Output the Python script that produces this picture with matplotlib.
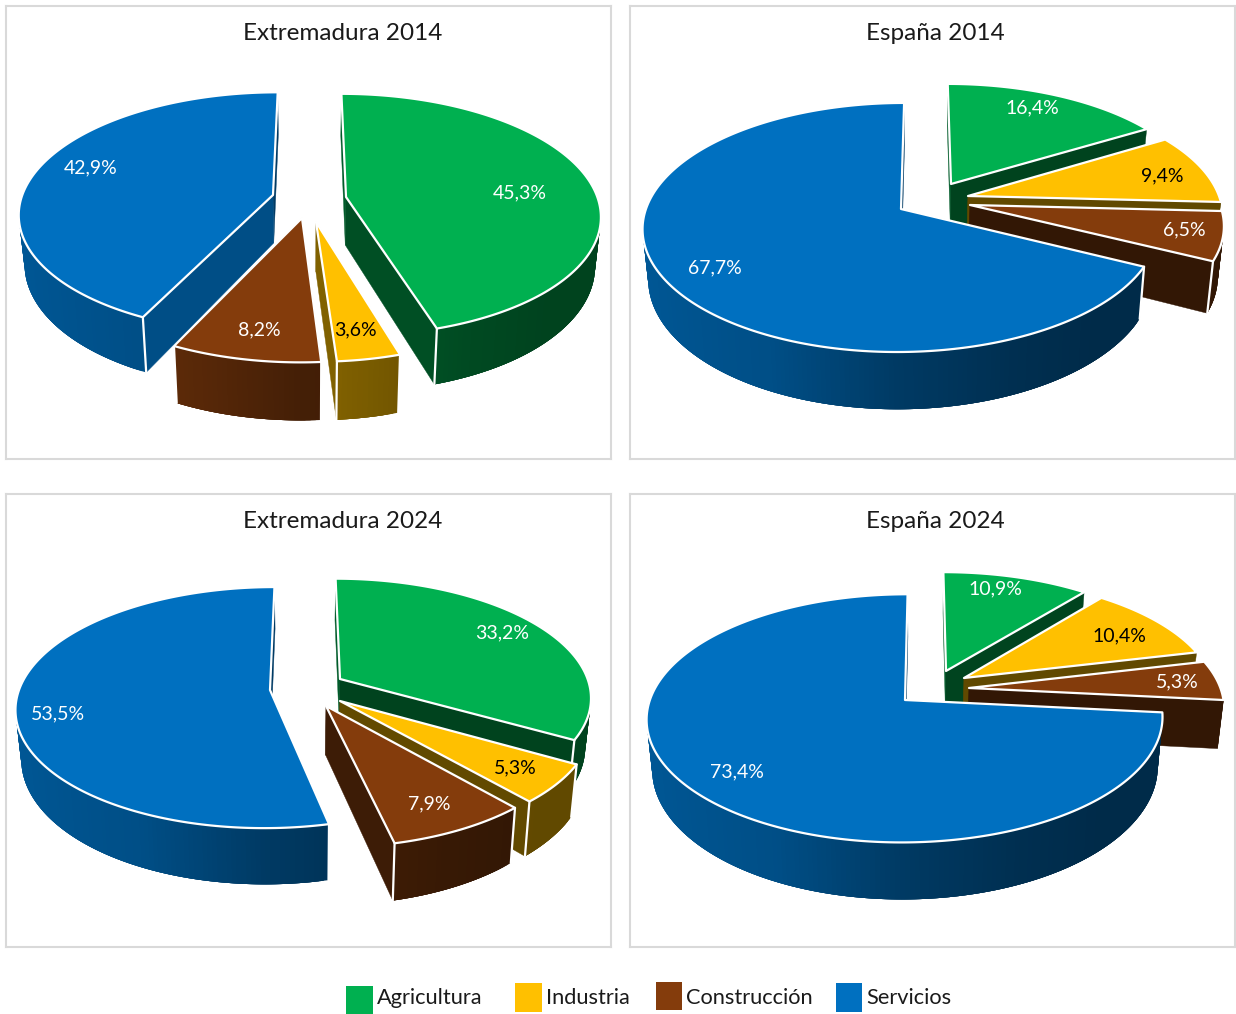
import numpy as np
import matplotlib

matplotlib.use("Agg")
import matplotlib.pyplot as plt
from matplotlib.patches import Rectangle

plt.rcParams["font.family"] = ["Lato", "DejaVu Sans"]

# datos (% de ocupados por sector)
sectores = ["Agricultura", "Industria", "Construcción", "Servicios"]
titulos = ["Extremadura 2014", "España 2014", "Extremadura 2024", "España 2024"]
ext_2014 = [45.3, 3.6, 8.2, 42.9]
esp_2014 = [16.4, 9.4, 6.5, 67.7]
ext_2024 = [33.2, 5.3, 7.9, 53.5]
esp_2024 = [10.9, 10.4, 5.3, 73.4]
valores = [ext_2014, esp_2014, ext_2024, esp_2024]

colores = ["#00B050", "#FFC000", "#843C0C", "#0070C0"]
color_texto = ["white", "black", "white", "white"]

# maquetacion en pixeles de la figura
ANCHO, ALTO = 1236, 1014
paneles = [(6, 6), (630, 6), (6, 494), (630, 494)]
PANEL_W, PANEL_H = 605, 453
radios = [251, 251, 251, 252]
centros = [(304, 190), (295, 190), (299, 196), (295, 196)]
titulo_x = [337, 305, 337, 305]
# desplazamiento de cada porcion respecto al centro
explosion = [
    [(36, 1), (6, 26), (-8, 22), (-37, -1)],
    [(26, -12), (43, 0), (45, 9), (-24, 13)],
    [(35, -11), (35, 11), (21, 16), (-35, 0)],
    [(21, -19), (39, -12), (44, -2), (-20, 10)],
]
# retoque del radio de cada porcion
escala = [
    [1, 0.94, 0.985, 1],
    [1, 1, 0.985, 1],
    [1, 0.98, 0.98, 1],
    [1, 1, 1, 1],
]
etiquetas_pos = [
    [(514, 187), (349, 324), (253, 324), (85, 162)],
    [(402, 102), (532, 170), (554, 224), (85, 262)],
    [(496, 139), (509, 274), (423, 310), (52, 220)],
    [(365, 95), (489, 142), (547, 188), (107, 278)],
]
leyenda = [(346, 986, 27, 28), (515, 983, 27, 29), (656, 982, 26, 28), (836, 983, 26, 29)]

INCLINA = 0.47
PERSP = 0.146
FONDO = 48
CONV = 0.98
BORDE = 1.6


def sombra(x):
    return np.interp(x, [-1, -0.43, 0, 0.4, 0.7, 1], [0.78, 0.7, 0.52, 0.42, 0.38, 0.38])


def oscurece(color, f):
    r, g, b = matplotlib.colors.to_rgb(color)
    return (r * f, g * f, b * f)


def punto(theta, r, dx, dy, cx, cy, abajo=False):
    # perspectiva real: la explosion tambien se escala con la profundidad
    rt = r * INCLINA
    z0 = dy / (rt + PERSP * dy)
    x0 = dx * (1 - PERSP * z0)
    z = z0 - np.cos(theta)
    s = 1 / (1 - PERSP * z)
    x = (x0 + r * np.sin(theta)) * s
    y = rt * z * s
    if abajo:
        x = x * CONV
        y = y + FONDO * s
    return cx + x, cy + y


def vertice(r, dx, dy, cx, cy, abajo=False):
    rt = r * INCLINA
    z0 = dy / (rt + PERSP * dy)
    s0 = 1 / (1 - PERSP * z0)
    if abajo:
        return cx + dx * CONV, cy + dy + FONDO * s0
    return cx + dx, cy + dy


def dibuja_porcion(ax, t0, t1, r, dx, dy, cx, cy, color):
    ts = np.linspace(t0, t1, max(int((t1 - t0) * 60), 8))
    xs, ys = punto(ts, r, dx, dy, cx, cy)
    xb, yb = punto(ts, r, dx, dy, cx, cy, abajo=True)
    ax0, ay0 = vertice(r, dx, dy, cx, cy)
    bx0, by0 = vertice(r, dx, dy, cx, cy, abajo=True)

    # caras de corte, primero la que queda mas atras
    caras = sorted([t0, t1], key=lambda t: punto(t, r, dx, dy, cx, cy)[1])
    for t in caras:
        x1, y1 = punto(t, r, dx, dy, cx, cy)
        x2, y2 = punto(t, r, dx, dy, cx, cy, abajo=True)
        c = oscurece(color, sombra(np.sin(t)))
        ax.fill([ax0, x1, x2, bx0], [ay0, y1, y2, by0], color=c, lw=0.3, zorder=ax.orden)
        ax.orden += 0.01

    # borde exterior con degradado, cada tramo pisa al siguiente para evitar rayas
    n = len(ts)
    for i in range(n - 1):
        if -np.cos(ts[i]) < 0.05 and -np.cos(ts[i + 1]) < 0.05:
            continue
        j = min(i + 4, n - 1)
        c = oscurece(color, sombra(np.sin((ts[i] + ts[i + 1]) / 2)))
        ax.fill(np.r_[xs[i:j + 1], xb[i:j + 1][::-1]], np.r_[ys[i:j + 1], yb[i:j + 1][::-1]],
                facecolor=c, edgecolor="none", lw=0, zorder=ax.orden)
        ax.orden += 0.0001
    ax.orden += 0.01

    # aristas verticales visibles
    for t in (t0, t1):
        if -np.cos(t) > 0.12:
            x1, y1 = punto(t, r, dx, dy, cx, cy)
            x2, y2 = punto(t, r, dx, dy, cx, cy, abajo=True)
            ax.plot([x1, x2], [y1, y2], color="white", lw=BORDE, zorder=ax.orden,
                    solid_capstyle="round")
    ax.orden += 0.01

    # cara superior
    px = np.r_[ax0, xs, ax0]
    py = np.r_[ay0, ys, ay0]
    ax.fill(px, py, facecolor=color, edgecolor="white", lw=BORDE, zorder=ax.orden,
            joinstyle="round")
    ax.orden += 0.01


fig = plt.figure(figsize=(ANCHO / 100, ALTO / 100), dpi=100)

for n, vals in enumerate(valores):
    x0, y0 = paneles[n]
    ax = fig.add_axes([x0 / ANCHO, 1 - (y0 + PANEL_H) / ALTO, PANEL_W / ANCHO, PANEL_H / ALTO])
    ax.set_xlim(0, PANEL_W)
    ax.set_ylim(PANEL_H, 0)
    ax.set_xticks([])
    ax.set_yticks([])
    for sp in ax.spines.values():
        sp.set_color("#D9D9D9")
        sp.set_linewidth(1.5)
    ax.orden = 2

    cx, cy = centros[n]
    angulos = np.r_[0, np.cumsum(vals)] / sum(vals) * 2 * np.pi
    for i in range(4):
        dx, dy = explosion[n][i]
        r = radios[n] * escala[n][i]
        dibuja_porcion(ax, angulos[i], angulos[i + 1], r, dx, dy, cx, cy, colores[i])
    for i in range(4):
        lx, ly = etiquetas_pos[n][i]
        txt = f"{vals[i]:.1f}%".replace(".", ",")
        ax.text(lx, ly, txt, color=color_texto[i], fontsize=14, ha="center", va="center",
                zorder=10)
    ax.text(titulo_x[n], 28, titulos[n], fontsize=17.5, ha="center", va="center",
            color="#1a1a1a", zorder=10)

# leyenda
axl = fig.add_axes([0, 0, 1, 1], facecolor="none")
axl.set_xlim(0, ANCHO)
axl.set_ylim(ALTO, 0)
axl.axis("off")
for i, nombre in enumerate(sectores):
    lx, ly, lw, lh = leyenda[i]
    axl.add_patch(Rectangle((lx, ly), lw, lh, facecolor=colores[i], edgecolor="none"))
    axl.text(lx + lw + 4, 998, nombre, fontsize=15.7, ha="left", va="center", color="#1a1a1a")

fig.savefig("out.png", dpi=100, facecolor="white")
